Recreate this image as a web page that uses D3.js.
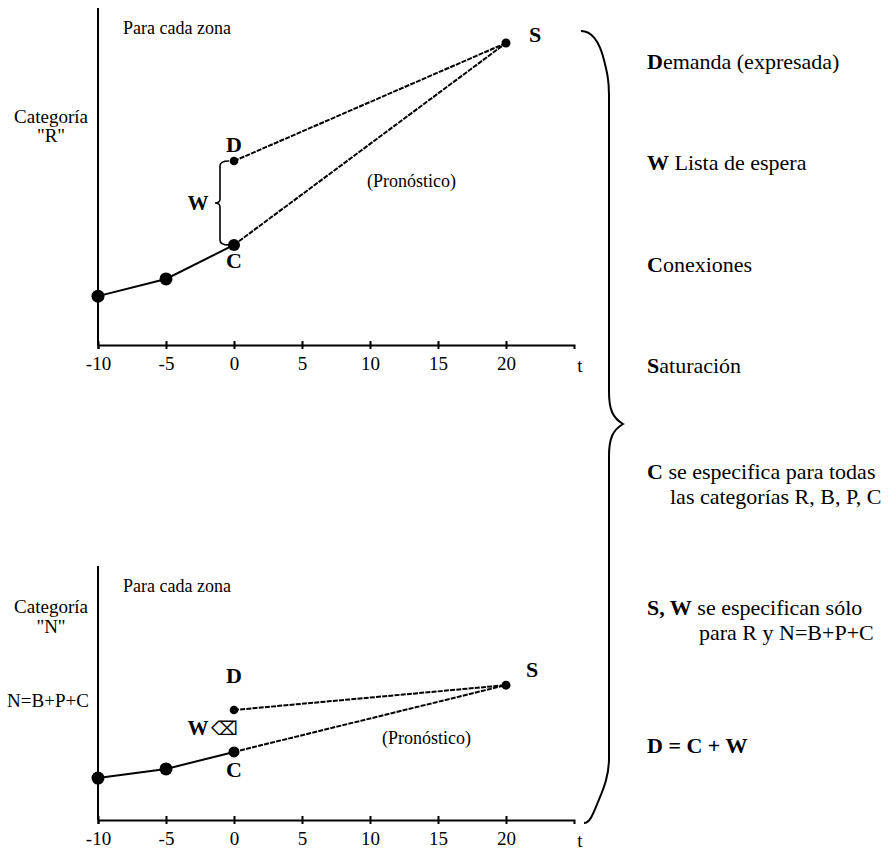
<!DOCTYPE html>
<html>
<head>
<meta charset="utf-8">
<script src="https://cdn.jsdelivr.net/npm/d3@7"></script>
<style>
  html, body { margin: 0; padding: 0; background: #fff; }
  svg { display: block; }
  text { font-family: "Liberation Serif", "Times New Roman", serif; fill: #000; }
</style>
</head>
<body>
<svg id="chart" width="896" height="850"></svg>
<script>
// Time axis
const tickValues = [-10, -5, 0, 5, 10, 15, 20];
const histYears = [-10, -5, 0];
const forecastYear = 20;

// Category "R" (index units, 0-100 of axis height)
const histR = [14.5, 19.6, 29.7];
const demandR = 54.6;
const saturR = 89.6;

// Category "N" = B+P+C
const histN = [16.5, 20.1, 26.8];
const demandN = 43.3;
const saturN = 53.1;

// Right-hand notes
const notesTop = [
  { b: "D", t: "emanda (expresada)", y: 69 },
  { b: "W", t: " Lista de espera", y: 170 },
  { b: "C", t: "onexiones", y: 272 },
  { b: "S", t: "aturación", y: 373 }
];

const svg = d3.select("#chart");
const serif = '"Liberation Serif", "Times New Roman", serif';

function panel(cfg) {
  const x = d3.scaleLinear().domain([-10, 25]).range([98, 574]);
  const y = d3.scaleLinear().domain([0, 100]).range([cfg.bottom, cfg.top]);
  const g = svg.append("g");

  // y axis (no ticks)
  g.append("line")
    .attr("x1", x(-10)).attr("x2", x(-10))
    .attr("y1", y(100)).attr("y2", y(0))
    .attr("stroke", "#000").attr("stroke-width", 2);

  // x axis
  const ax = g.append("g")
    .attr("transform", `translate(0,${y(0)})`)
    .call(d3.axisBottom(x).tickValues(tickValues).tickSizeOuter(0).tickSize(4).tickPadding(9)
      .tickFormat(d => d));
  ax.select(".domain").attr("stroke-width", 2);
  ax.selectAll(".tick line").attr("y1", -4).attr("y2", 4).attr("stroke-width", 2);
  ax.selectAll(".tick text")
    .attr("font-family", serif).attr("font-size", 19).attr("fill", "#000")
    .attr("dy", null).attr("y", 25);
  g.append("text").attr("x", 580).attr("y", y(0) + 27)
    .attr("font-size", 19).attr("text-anchor", "middle").text("t");

  // labels
  g.append("text").attr("x", 123).attr("y", y(100) + 26)
    .attr("font-size", 18).text("Para cada zona");
  const cat = g.append("text").attr("font-size", 19).attr("text-anchor", "middle");
  cat.append("tspan").attr("x", 51).attr("y", cfg.catY).text("Categoría");
  cat.append("tspan").attr("x", 51).attr("y", cfg.catY + cfg.catGap).text(cfg.catName);
  if (cfg.extra) {
    g.append("text").attr("x", 48).attr("y", cfg.extra.y)
      .attr("font-size", 19).attr("text-anchor", "middle").text(cfg.extra.t);
  }

  // forecast lines
  const dash = "5,1.2";
  [[0, cfg.demand], [0, cfg.hist[2]]].forEach(([t0, v0]) => {
    g.append("line")
      .attr("x1", x(t0)).attr("y1", y(v0))
      .attr("x2", x(forecastYear)).attr("y2", y(cfg.satur))
      .attr("stroke", "#000").attr("stroke-width", 2)
      .attr("stroke-dasharray", dash);
  });

  // historic connections
  const pts = histYears.map((t, i) => [x(t), y(cfg.hist[i])]);
  g.append("path").attr("d", d3.line()(pts))
    .attr("fill", "none").attr("stroke", "#000").attr("stroke-width", 2);
  g.selectAll(".hp").data(pts).join("circle")
    .attr("cx", d => d[0]).attr("cy", d => d[1])
    .attr("r", (d, i) => i === 2 ? cfg.rC : 6.5).attr("fill", "#000");

  g.append("circle").attr("cx", x(0)).attr("cy", y(cfg.demand)).attr("r", 4.3).attr("fill", "#000");
  g.append("circle").attr("cx", x(forecastYear)).attr("cy", y(cfg.satur)).attr("r", 4.5).attr("fill", "#000");

  // point letters
  const bold = (tx, ty, s, size) => g.append("text").attr("x", tx).attr("y", ty)
    .attr("font-size", size || 22).attr("font-weight", "bold").attr("text-anchor", "middle").text(s);
  bold(x(0), cfg.dY, "D");
  bold(x(0), cfg.cY, "C");
  bold(cfg.sX, cfg.sY, "S");
  bold(198, cfg.wY, "W", 21);

  g.append("text").attr("x", cfg.pronX).attr("y", cfg.pronY)
    .attr("font-size", 18).text("(Pronóstico)");

  return { x, y, g };
}

// Top panel: category R
const panelR = panel({
  top: 8, bottom: 345, hist: histR, demand: demandR, satur: saturR,
  catY: 123, catGap: 19, catName: "\"R\"", rC: 6,
  dY: 152, cY: 268, sX: 535, sY: 42, wY: 210, pronX: 367, pronY: 187
});

// waiting-list brace between D and C
{
  const { x, y, g } = panelR;
  const bx = x(0) - 14, yT = y(demandR), yB = y(histR[2]), yM = (yT + yB) / 2;
  const p = d3.path();
  p.moveTo(x(0) - 5, yT);
  p.quadraticCurveTo(bx, yT, bx, yT + 5);
  p.lineTo(bx, yM - 4);
  p.quadraticCurveTo(bx, yM, bx - 5, yM);
  p.quadraticCurveTo(bx, yM, bx, yM + 4);
  p.lineTo(bx, yB - 5);
  p.quadraticCurveTo(bx, yB, x(0) - 5, yB);
  g.append("path").attr("d", p.toString())
    .attr("fill", "none").attr("stroke", "#000").attr("stroke-width", 1.6);
}

// Bottom panel: category N
const panelN = panel({
  top: 566, bottom: 820, hist: histN, demand: demandN, satur: saturN,
  catY: 613, catGap: 20, catName: "\"N\"", rC: 5.5,
  extra: { t: "N=B+P+C", y: 707 },
  dY: 683, cY: 777, sX: 532, sY: 677, wY: 735, pronX: 382, pronY: 744
});
panelN.g.append("text").attr("x", 211).attr("y", 735)
  .attr("font-family", '"DejaVu Sans", sans-serif').attr("font-size", 19).text("⌫");

// large brace grouping the notes
svg.append("path")
  .attr("d", "M581,31 C595,31 601,48 604,60 C607,72 609,80 609,95 L609,392 C609,410 613,418 623,424 C613,430 609,438 609,456 L609,758 C609,778 602,792 598,802 C593,814 590,823 584,823")
  .attr("fill", "none").attr("stroke", "#000").attr("stroke-width", 2);

// notes
const notes = svg.append("g").attr("font-size", 22);
notesTop.forEach(n => {
  const t = notes.append("text").attr("x", 647).attr("y", n.y);
  t.append("tspan").attr("font-weight", "bold").text(n.b);
  t.append("tspan").text(n.t);
});
{
  const t1 = notes.append("text").attr("x", 647).attr("y", 479);
  t1.append("tspan").attr("font-weight", "bold").text("C");
  t1.append("tspan").text(" se especifica para todas");
  notes.append("text").attr("x", 670).attr("y", 504).text("las categorías R, B, P, C");

  const t2 = notes.append("text").attr("x", 647).attr("y", 615);
  t2.append("tspan").attr("font-weight", "bold").text("S, W");
  t2.append("tspan").text(" se especifican sólo");
  notes.append("text").attr("x", 699).attr("y", 640).text("para R y N=B+P+C");

  notes.append("text").attr("x", 647).attr("y", 753)
    .attr("font-weight", "bold").text("D = C + W");
}
</script>
</body>
</html>
